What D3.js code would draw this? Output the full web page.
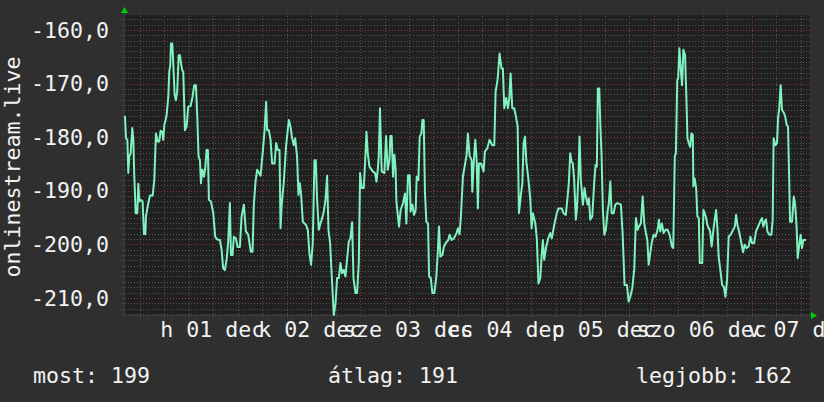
<!DOCTYPE html>
<html><head><meta charset="utf-8">
<script src="https://cdn.jsdelivr.net/npm/d3@7"></script>
<style>
html,body{margin:0;padding:0;background:#2f2f2f;}
svg{display:block;}
text{font-family:"DejaVu Sans Mono",monospace;fill:#f2f2f2;}
</style></head>
<body>
<svg id="c" width="824" height="402"></svg>
<script>
// ---- data ----
const windowStart = new Date(2014, 10, 30, 14, 7);   // left edge of the plot
const windowHours = 168.2;
const seriesName = "onlinestream.live";
const dayLabels = ["h 01 dec", "k 02 dec", "sze 03 dec", "cs 04 dec", "p 05 dec", "szo 06 dec", "v 07 dec"];
const yTickValues = [-160, -170, -180, -190, -200, -210];
const legendLabels = ["most", "átlag", "legjobb"];
const legendValues = [199, 191, 162];
// hours since windowStart
const sampleHours = [0.24,0.49,0.82,1.05,1.30,1.63,2.04,2.29,2.52,2.86,3.26,3.50,3.76,4.08,4.57,4.90,5.23,5.39,5.88,6.37,7.02,7.43,7.84,8.25,8.65,8.98,9.39,9.63,9.88,10.20,10.45,10.86,11.10,11.35,11.51,11.84,12.08,12.41,12.73,13.05,13.40,13.72,13.96,14.29,14.53,14.94,15.35,15.75,16.33,16.82,17.22,17.63,17.96,18.29,18.61,18.86,19.18,19.59,19.92,20.25,20.57,20.82,21.31,21.88,22.37,22.86,23.51,23.93,24.32,24.74,25.15,25.55,25.96,26.21,26.62,26.94,27.43,27.85,28.41,28.83,29.39,29.88,30.45,31.10,31.51,31.84,32.25,32.65,33.48,34.04,34.46,34.85,35.10,35.51,35.93,36.32,36.91,37.30,37.72,38.13,38.38,38.70,39.19,39.75,40.41,40.82,41.22,41.64,41.96,42.44,42.79,43.11,43.43,43.85,44.65,45.06,45.47,45.87,46.29,46.70,47.02,47.35,47.76,48.17,48.50,48.99,49.40,49.80,50.14,50.54,50.95,51.44,51.86,52.25,52.67,53.08,53.47,53.88,54.30,54.69,55.11,55.52,55.93,56.27,56.76,57.15,57.56,57.88,58.29,58.78,59.10,59.45,59.76,60.18,60.98,61.55,61.90,62.21,62.46,62.77,63.19,63.85,64.25,64.66,65.08,65.32,65.64,65.96,66.30,66.60,66.78,67.43,67.84,68.41,68.90,69.24,69.63,70.05,70.29,70.71,71.10,71.52,71.76,72.18,72.50,72.92,73.16,73.48,73.80,74.14,74.55,74.80,75.21,75.61,76.10,76.59,76.91,77.23,77.57,78.06,78.45,78.86,79.52,79.84,80.33,80.89,81.55,81.87,82.29,82.60,83.10,83.59,84.00,84.32,84.74,85.23,85.40,85.79,86.14,86.46,86.77,87.02,87.51,88.17,88.49,89.06,89.64,90.30,90.79,91.11,91.60,92.09,92.58,92.90,93.24,93.73,94.14,94.48,94.78,95.20,95.69,96.03,96.52,96.84,97.26,97.66,97.99,98.32,98.65,99.14,99.63,99.93,100.27,100.85,101.22,101.64,102.06,102.38,102.70,103.04,103.53,104.02,104.51,104.90,105.49,106.12,106.54,107.35,107.76,108.33,108.74,109.06,109.40,109.72,110.05,110.39,110.78,111.03,111.45,111.69,112.02,112.51,112.92,113.24,113.66,113.98,114.32,114.81,115.30,115.62,115.94,116.19,116.53,116.78,117.10,117.42,117.76,118.15,118.57,118.89,119.24,119.56,120.05,120.46,121.03,121.84,122.25,122.74,123.31,123.73,124.14,124.63,125.12,125.51,125.93,126.25,126.74,127.16,127.57,127.96,128.31,128.63,129.04,129.36,129.85,130.34,130.83,131.15,131.49,131.88,132.30,132.79,133.28,133.77,134.34,134.66,135.05,135.32,135.65,135.89,136.17,136.53,136.84,137.15,137.57,137.89,138.15,138.46,138.81,139.14,139.46,139.60,139.94,140.28,140.58,140.93,141.16,141.76,142.06,142.40,142.74,143.03,143.37,143.71,144.08,144.51,144.84,145.18,145.51,145.80,146.26,146.65,147.06,147.47,147.87,148.27,148.77,149.35,149.75,150.08,150.41,150.90,151.39,151.80,152.19,152.67,153.17,153.58,154.00,154.48,154.97,155.46,155.95,156.45,156.76,157.09,157.42,157.75,158.24,158.73,159.05,159.29,159.71,160.12,160.37,160.66,161.00,161.34,161.82,162.14,162.47,162.82,163.15,163.31,163.80,164.21,164.45,164.69,164.94,165.18,165.52,165.90,166.23,166.57,167.22];
const sampleValues = [-176.0,-180.2,-180.5,-186.7,-183.6,-183.0,-178.3,-180.5,-187.1,-194.2,-194.2,-188.7,-192.0,-191.7,-192.0,-198.1,-198.1,-194.8,-192.6,-190.9,-190.9,-188.0,-179.3,-180.8,-180.8,-178.8,-179.0,-180.5,-177.7,-176.8,-175.9,-172.4,-167.8,-166.5,-162.5,-162.5,-166.2,-172.1,-173.1,-171.5,-164.7,-164.7,-166.2,-167.5,-167.8,-178.7,-178.0,-174.3,-174.2,-172.4,-170.3,-170.3,-176.2,-183.6,-184.3,-188.6,-186.1,-187.4,-185.8,-182.4,-182.4,-191.7,-192.0,-194.2,-198.6,-199.1,-199.2,-201.0,-204.5,-204.8,-202.9,-199.5,-192.3,-202.0,-202.0,-198.6,-198.9,-200.5,-200.5,-194.8,-192.6,-197.6,-198.2,-201.4,-201.4,-192.6,-188.3,-186.1,-187.2,-182.7,-178.7,-173.4,-178.7,-178.7,-180.5,-184.9,-184.9,-181.1,-182.4,-182.4,-197.0,-192.3,-188.3,-181.5,-176.8,-178.0,-180.2,-181.5,-180.2,-183.6,-190.8,-188.6,-190.8,-195.8,-196.4,-197.3,-201.7,-203.8,-199.8,-184.3,-184.3,-191.7,-197.3,-196.1,-195.4,-193.9,-191.7,-187.2,-197.3,-199.8,-206.0,-213.2,-211.0,-206.3,-206.3,-203.5,-205.4,-204.8,-206.0,-202.9,-199.5,-198.9,-195.9,-206.3,-209.1,-209.1,-203.5,-186.7,-189.5,-189.5,-184.9,-179.0,-183.0,-185.5,-186.4,-186.7,-188.3,-186.1,-183.6,-174.6,-186.4,-186.7,-179.8,-186.1,-184.3,-179.8,-179.8,-187.4,-183.3,-186.0,-192.0,-196.7,-193.6,-192.3,-190.5,-196.1,-187.1,-187.1,-193.9,-192.6,-194.5,-193.6,-187.4,-188.0,-179.9,-179.3,-176.8,-176.8,-190.5,-195.8,-196.1,-206.0,-206.3,-209.1,-209.1,-206.0,-201.7,-196.7,-202.3,-202.0,-200.4,-199.8,-199.2,-198.2,-199.2,-198.9,-197.9,-197.0,-198.1,-194.8,-187.4,-185.2,-183.3,-179.3,-183.5,-184.3,-190.2,-184.3,-180.5,-184.3,-193.3,-184.9,-184.9,-186.4,-182.7,-182.1,-180.5,-181.5,-181.5,-171.5,-169.3,-164.4,-167.2,-167.2,-174.6,-172.7,-174.6,-172.7,-168.1,-174.6,-174.6,-175.9,-178.0,-194.2,-191.1,-188.6,-181.1,-179.9,-184.6,-187.7,-191.7,-197.0,-194.2,-196.1,-198.9,-207.3,-206.3,-202.3,-199.2,-202.9,-200.4,-198.9,-197.9,-198.9,-196.4,-194.2,-193.3,-193.3,-194.2,-194.5,-191.4,-188.6,-183.0,-184.6,-184.9,-188.0,-195.4,-193.6,-186.7,-179.9,-188.0,-192.6,-189.5,-191.1,-192.6,-191.4,-195.4,-194.8,-188.3,-185.2,-185.5,-170.9,-170.9,-177.4,-183.6,-193.6,-198.2,-197.3,-193.9,-192.3,-188.3,-194.2,-194.2,-192.6,-192.3,-192.6,-197.9,-207.6,-207.6,-210.7,-209.8,-208.2,-204.5,-195.1,-197.3,-196.7,-196.1,-191.1,-196.1,-197.9,-199.2,-203.8,-201.7,-199.8,-198.2,-198.6,-197.3,-195.4,-197.6,-196.1,-197.9,-197.3,-197.3,-198.2,-200.4,-200.7,-183.6,-183.0,-169.3,-169.0,-163.4,-167.5,-170.3,-163.7,-164.7,-172.4,-180.2,-181.1,-181.8,-179.3,-179.6,-189.2,-187.7,-189.5,-194.8,-195.1,-203.5,-203.5,-193.6,-194.2,-195.1,-196.4,-197.0,-197.6,-200.4,-197.3,-195.4,-193.6,-197.3,-202.3,-205.1,-207.6,-207.9,-209.8,-206.6,-198.6,-198.2,-197.3,-196.7,-194.5,-196.4,-197.9,-199.8,-201.5,-200.1,-200.7,-200.4,-198.6,-199.8,-199.8,-197.6,-196.7,-195.8,-195.1,-196.7,-195.8,-195.4,-197.6,-198.2,-198.2,-195.4,-180.2,-181.5,-181.1,-176.5,-174.6,-170.3,-174.9,-175.5,-176.2,-177.7,-178.0,-189.9,-195.8,-195.8,-191.1,-192.0,-193.9,-197.0,-202.6,-200.4,-198.2,-200.7,-199.2,-199.2];

// ---- layout ----
const plot = {left: 124, right: 810, top: 15, bottom: 315};
const FS = 21.6;
const svg = d3.select("#c");
const windowEnd = d3.timeMinute.offset(windowStart, Math.round(windowHours * 60));
const x = d3.scaleTime().domain([windowStart, windowEnd]).range([plot.left, plot.right]);
const y = d3.scaleLinear().domain([-213.2, -157.2]).range([plot.bottom, plot.top]);
const data = sampleHours.map((h, i) => ({t: d3.timeMinute.offset(windowStart, Math.round(h * 60)), v: sampleValues[i]}));

svg.append("rect").attr("width", 824).attr("height", 402).attr("fill", "#2f2f2f");
svg.append("rect").attr("x", plot.left).attr("y", plot.top)
  .attr("width", plot.right - plot.left).attr("height", plot.bottom - plot.top).attr("fill", "#202020");

const locale = d3.formatLocale({decimal: ",", thousands: ".", grouping: [3], currency: ["", ""], minus: "-"});
const fmt = locale.format(".1f");

// grid: minor horizontal every 1 unit, major every 10
const grid = svg.append("g");
const [y0, y1] = y.domain();
d3.range(Math.ceil(y0), Math.floor(y1) + 1).forEach(v => {
  const major = v % 10 === 0;
  grid.append("line").attr("x1", plot.left - 2).attr("x2", plot.right + 2)
    .attr("y1", Math.round(y(v)) + 0.5).attr("y2", Math.round(y(v)) + 0.5)
    .attr("stroke", major ? "#8a3636" : "#555555").attr("stroke-width", 1)
    .attr("stroke-dasharray", "1,2");
});
// vertical: minor every 6h, major at midnight
d3.timeHour.every(6).range(windowStart, windowEnd).forEach(t => {
  const major = t.getHours() === 0;
  const px = Math.round(x(t)) + 0.5;
  grid.append("line").attr("x1", px).attr("x2", px)
    .attr("y1", plot.top - 2).attr("y2", plot.bottom + 3)
    .attr("stroke", major ? "#8a3636" : "#555555").attr("stroke-width", 1)
    .attr("stroke-dasharray", "1,2");
});

// axis lines
svg.append("line").attr("x1", plot.left - 1).attr("x2", plot.right + 2)
  .attr("y1", plot.bottom + 0.5).attr("y2", plot.bottom + 0.5).attr("stroke", "#3a3a3a");
svg.append("line").attr("x1", plot.left + 0.5).attr("x2", plot.left + 0.5)
  .attr("y1", plot.top - 4).attr("y2", plot.bottom + 3).attr("stroke", "#3a3a3a");

// arrows
svg.append("path").attr("d", `M${plot.left - 3},${plot.top - 2} L${plot.left + 4},${plot.top - 2} L${plot.left + 0.5},${plot.top - 8} Z`).attr("fill", "#00d000");
svg.append("path").attr("d", `M${plot.right + 1},${plot.bottom - 3} L${plot.right + 1},${plot.bottom + 4} L${plot.right + 7},${plot.bottom + 0.5} Z`).attr("fill", "#00d000");

// y tick labels
svg.append("g").selectAll("text").data(yTickValues).join("text")
  .attr("x", 109).attr("y", d => y(d)).attr("dy", "0.36em")
  .attr("text-anchor", "end").attr("font-size", FS).text(d => fmt(d));

// x labels at midday of each day
const days = d3.timeDay.range(d3.timeDay.ceil(windowStart), windowEnd);
svg.append("g").selectAll("text").data(days).join("text")
  .attr("x", d => x(d3.timeHour.offset(d, 12)) - 1).attr("y", 337)
  .attr("text-anchor", "middle").attr("font-size", FS)
  .attr("xml:space", "preserve")
  .text((d, i) => dayLabels[i]);

// y title
svg.append("text").attr("transform", "translate(20,167) rotate(-90)")
  .attr("text-anchor", "middle").attr("font-size", FS).text(seriesName);

// line
const line = d3.line().x(d => x(d.t)).y(d => y(d.v));
svg.append("path").datum(data).attr("d", line)
  .attr("fill", "none").attr("stroke", "#7ff2c0").attr("stroke-width", 2)
  .attr("stroke-linejoin", "round");

// legend
const legendX = [33, 328, 636];
svg.append("g").selectAll("text").data(legendLabels).join("text")
  .attr("x", (d, i) => legendX[i]).attr("y", 383).attr("font-size", FS)
  .text((d, i) => `${d}: ${legendValues[i]}`);
</script>
</body></html>
